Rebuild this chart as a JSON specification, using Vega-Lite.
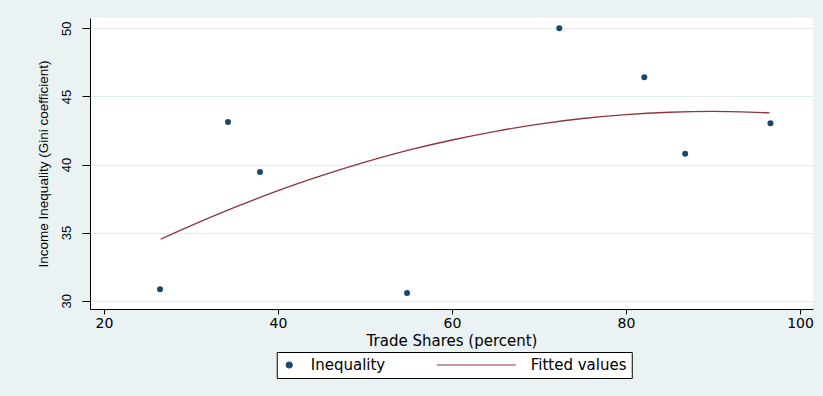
{
  "$schema": "https://vega.github.io/schema/vega-lite/v6.json",
  "width": 723,
  "height": 291,
  "autosize": "none",
  "padding": {"left": 90, "top": 18, "right": 10, "bottom": 87},
  "background": "#eaf2f3",
  "config": {
    "view": {"fill": "white", "stroke": null},
    "axis": {"domainColor": "black", "tickColor": "black", "labelColor": "black", "titleColor": "black", "titleFontWeight": "normal", "grid": false},
    "legend": {"direction": "horizontal", "padding": 5, "strokeColor": "black", "fillColor": "white", "labelFont": "DejaVu Sans", "labelFontSize": 15, "labelColor": "black", "labelOffset": 14, "columnPadding": 50, "clipHeight": 16, "symbolStrokeWidth": 1.2, "symbolOpacity": 1}
  },
  "datasets": {
    "points": [
      {"series": "Inequality", "x": 26.44, "y": 30.84},
      {"series": "Inequality", "x": 34.25, "y": 43.12},
      {"series": "Inequality", "x": 37.93, "y": 39.45},
      {"series": "Inequality", "x": 54.83, "y": 30.57},
      {"series": "Inequality", "x": 72.33, "y": 50.0},
      {"series": "Inequality", "x": 82.1, "y": 46.4},
      {"series": "Inequality", "x": 86.8, "y": 40.79},
      {"series": "Inequality", "x": 96.6, "y": 43.03}
    ],
    "fit": [
      {"series": "Fitted values", "x": 26.5, "y": 34.51},
      {"series": "Fitted values", "x": 30, "y": 35.51},
      {"series": "Fitted values", "x": 35, "y": 36.85},
      {"series": "Fitted values", "x": 40, "y": 38.08},
      {"series": "Fitted values", "x": 45, "y": 39.18},
      {"series": "Fitted values", "x": 50, "y": 40.17},
      {"series": "Fitted values", "x": 55, "y": 41.05},
      {"series": "Fitted values", "x": 60, "y": 41.8},
      {"series": "Fitted values", "x": 65, "y": 42.44},
      {"series": "Fitted values", "x": 70, "y": 42.97},
      {"series": "Fitted values", "x": 75, "y": 43.38},
      {"series": "Fitted values", "x": 80, "y": 43.67},
      {"series": "Fitted values", "x": 85, "y": 43.84},
      {"series": "Fitted values", "x": 90, "y": 43.9},
      {"series": "Fitted values", "x": 96.5, "y": 43.8}
    ]
  },
  "encoding": {
    "x": {
      "field": "x", "type": "quantitative",
      "scale": {"domain": [18.39, 101.49], "nice": false, "zero": false},
      "axis": {"values": [20, 40, 60, 80, 100], "tickSize": 5, "labelPadding": 2, "labelFont": "DejaVu Sans", "labelFontSize": 14, "title": "Trade Shares (percent)", "titleFont": "DejaVu Sans", "titleFontSize": 15, "titleY": 36, "titleBaseline": "alphabetic", "labelFlush": false}
    },
    "y": {
      "field": "y", "type": "quantitative",
      "scale": {"domain": [29.39, 50.76], "nice": false, "zero": false},
      "axis": {"values": [30, 35, 40, 45, 50], "tickSize": 8, "labelPadding": 12, "labelAngle": 270, "labelAlign": "center", "labelBaseline": "alphabetic", "labelFont": "Liberation Sans", "labelFontSize": 13, "grid": true, "gridColor": "#e3ecef", "title": "Income Inequality (Gini coefficient)", "titleFont": "Liberation Sans", "titleFontSize": 13.5, "titleAngle": 270, "titleX": -43, "titleY": 145.5, "titleBaseline": "alphabetic", "titleAlign": "center"}
    }
  },
  "layer": [
    {
      "data": {"name": "fit"},
      "mark": {"type": "line", "strokeWidth": 1.3, "interpolate": "monotone"},
      "encoding": {
        "color": {"field": "series", "type": "nominal", "scale": {"domain": ["Inequality", "Fitted values"], "range": ["#1a476f", "#90353b"]},
          "legend": {"title": null, "orient": "none", "legendX": 186.75, "legendY": 334,
            "encode": {"symbols": {"update": {
              "stroke": {"signal": "datum.value === 'Inequality' ? 'transparent' : '#90353b'"},
              "fill": {"signal": "datum.value === 'Inequality' ? '#1a476f' : 'transparent'"},
              "strokeWidth": {"value": 1.2}}}}}}
      }
    },
    {
      "data": {"name": "points"},
      "mark": {"type": "point", "filled": true, "opacity": 1},
      "encoding": {
        "color": {"field": "series", "type": "nominal", "scale": {"domain": ["Inequality", "Fitted values"], "range": ["#1a476f", "#90353b"]},
          "legend": {"title": null, "orient": "none", "legendX": 186.75, "legendY": 334,
            "encode": {"symbols": {"update": {
              "stroke": {"signal": "datum.value === 'Inequality' ? 'transparent' : '#90353b'"},
              "fill": {"signal": "datum.value === 'Inequality' ? '#1a476f' : 'transparent'"},
              "strokeWidth": {"value": 1.2}}}}}},
        "size": {"field": "series", "type": "nominal", "scale": {"type": "point", "domain": ["Inequality", "Fitted values"], "range": [36, 6241], "padding": 0},
          "legend": {"title": null, "orient": "none", "legendX": 186.75, "legendY": 334}},
        "shape": {"field": "series", "type": "nominal", "scale": {"domain": ["Inequality", "Fitted values"], "range": ["circle", "stroke"]},
          "legend": {"title": null, "orient": "none", "legendX": 186.75, "legendY": 334}}
      }
    }
  ]
}
